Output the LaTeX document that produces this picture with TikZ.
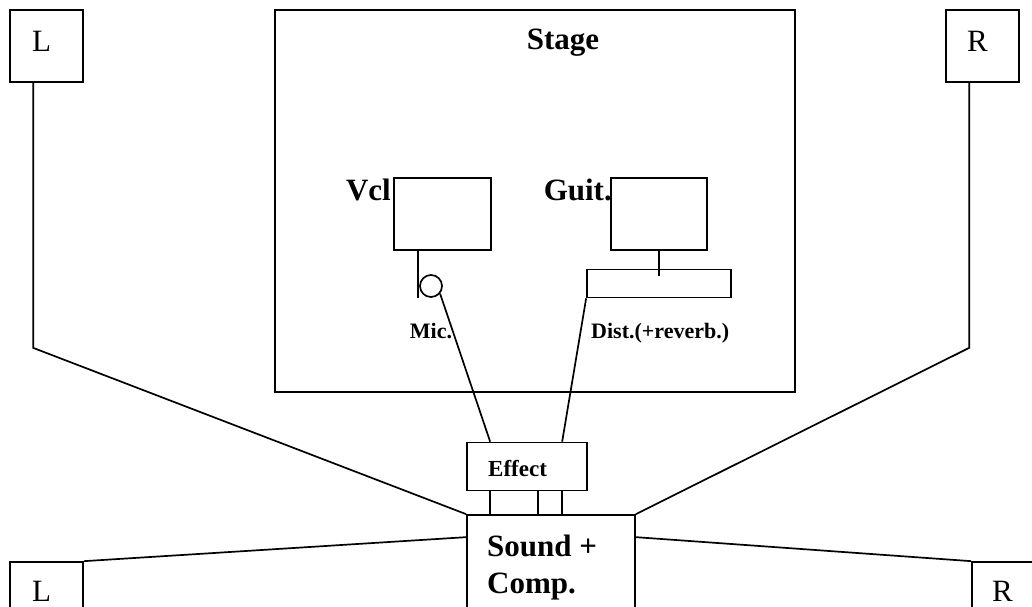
\documentclass[tikz,border=0pt]{standalone}
\usepackage{fontspec}
\setmainfont{Liberation Serif}
\begin{document}
\begin{tikzpicture}[x=1pt,y=-1pt,
  box/.style={draw,line width=1.7pt,rectangle,inner sep=0pt},
  wire/.style={line width=1.7pt},
  big/.style={font=\fontsize{31}{37}\selectfont,inner sep=0pt},
  bigb/.style={font=\fontsize{31}{37}\selectfont\bfseries,inner sep=0pt},
  mid/.style={font=\fontsize{31}{37}\selectfont\bfseries,inner sep=0pt},
  small/.style={font=\fontsize{22}{26}\selectfont\bfseries,inner sep=0pt},
  smallb/.style={font=\fontsize{23}{27}\selectfont\bfseries,inner sep=0pt}]
\useasboundingbox (0,0) rectangle (1032,606);
\clip (0,0) rectangle (1032,606);

% loudspeakers and the stage frame
\node[box,minimum width=73pt,minimum height=72pt] (Ltop) at (46.5,46) {};
\node[box,minimum width=73pt,minimum height=72pt] (Rtop) at (982.5,46) {};
\node[box,minimum width=520pt,minimum height=382pt] (stage) at (535,201) {};
\node[box,minimum width=73pt,minimum height=80pt] (Lbot) at (46.5,602) {};
\node[box,minimum width=88pt,minimum height=80pt] (Rbot) at (1016,602) {};

% amplifiers, microphone, distortion pedal
\node[box,minimum width=97pt,minimum height=72pt] (vcl) at (442.5,214) {};
\node[box,minimum width=96pt,minimum height=72pt] (guit) at (659,214) {};
\node[draw,line width=1.7pt,circle,minimum size=22pt,inner sep=0pt] (mic) at (431,286) {};
\node[box,minimum width=144pt,minimum height=28pt] (dist) at (659,283.5) {};

% effect unit and mixing desk
\node[box,minimum width=120pt,minimum height=48pt] (effect) at (527,466.5) {};
\node[box,minimum width=168pt,minimum height=130pt] (sound) at (551,580) {};

% labels
\node[big,anchor=base west] (tLtop) at (32,51) {L};
\node[big,anchor=base west] (tRtop) at (967,51) {R};
\node[big,anchor=base west] (tLbot) at (32,601) {L};
\node[big,anchor=base west] (tRbot) at (992,601) {R};
\node[bigb,anchor=base] (tstage) at (563,49) {Stage};
\node[mid,anchor=base east] (tvcl) at (391,200) {Vcl};
\node[mid,anchor=base east] (tguit) at (612,200) {Guit.};
\node[small,anchor=base] (tmic) at (431,338) {Mic.};
\node[small,anchor=base west] (tdist) at (591,338) {Dist.(+reverb.)};
\node[smallb,anchor=base west] (teffect) at (488,476) {Effect};
\node[bigb,anchor=base west] (tsound) at (487,556) {Sound +};
\node[bigb,anchor=base west] (tcomp) at (487,593) {Comp.};

% cabling
\draw[wire] ([xshift=24pt]Ltop.south west) -- ++(0,265) -- (sound.north west);
\draw[wire] ([xshift=24pt]Rtop.south west) -- ++(0,265) -- (sound.north east);
\draw[wire] (Lbot.north east) -- ([yshift=-23pt]sound.north west);
\draw[wire] (Rbot.north west) -- ([yshift=-23pt]sound.north east);
\draw[wire] ([xshift=25pt]vcl.south west) -- ++(0,47);
\draw[wire] (mic.-40) -- ([xshift=24pt]effect.north west);
\draw[wire] (guit.south) -- ++(0,25);
\draw[wire] (dist.south west) -- ([xshift=96pt]effect.north west);
\foreach \dx in {24,72,96}
  \draw[wire] ([xshift=\dx pt]effect.south west) -- ([xshift=\dx pt]effect.south west |- sound.north);
\end{tikzpicture}
\end{document}
